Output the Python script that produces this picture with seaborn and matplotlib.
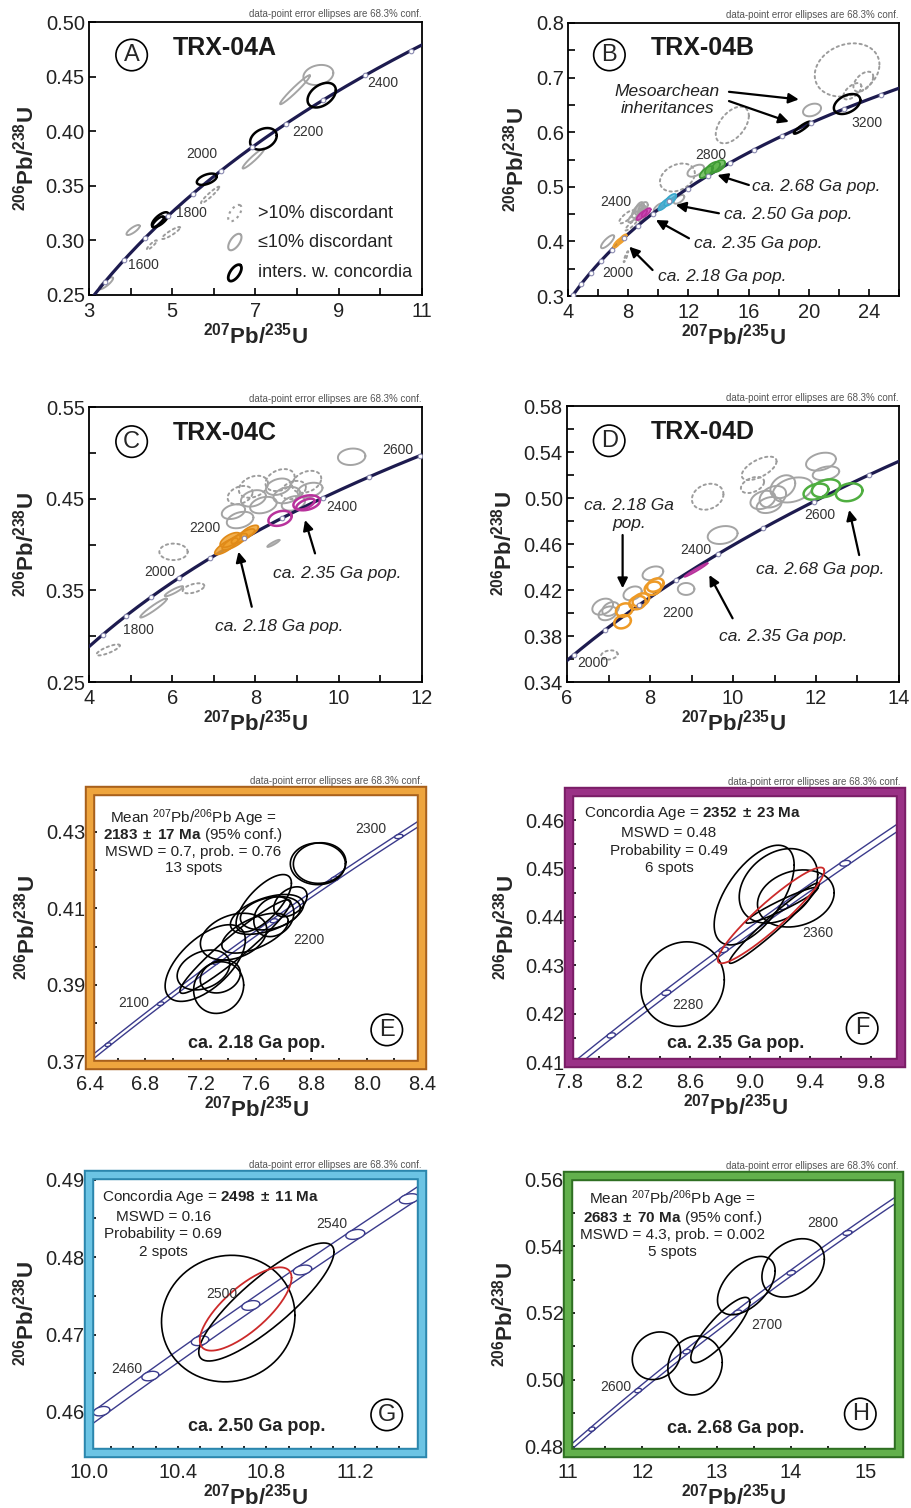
import numpy as np
import matplotlib
matplotlib.use("Agg")
import matplotlib.pyplot as plt
import seaborn as sns
from matplotlib.patches import Rectangle

sns.set_theme(style="ticks")
plt.rcParams["font.family"] = ["Liberation Sans", "DejaVu Sans"]
plt.rcParams.update({
    "mathtext.fontset": "custom",
    "mathtext.rm": "Liberation Sans",
    "mathtext.it": "Liberation Sans:italic",
    "mathtext.bf": "Liberation Sans:bold",
    "mathtext.default": "regular",
    "axes.linewidth": 1.3,
    "axes.edgecolor": "black",
})

# U decay constants (per year) and their relative uncertainties
LAMBDA_235 = 9.8485e-10
LAMBDA_238 = 1.55125e-10
LAMBDA_235_REL = 0.0014
LAMBDA_238_REL = 0.0011

XLABEL = r"$\mathbf{{}^{207}Pb/{}^{235}U}$"
YLABEL = r"$\mathbf{{}^{206}Pb/{}^{238}U}$"
CONF_NOTE = "data-point error ellipses are 68.3% conf."

# spot ellipses: (207Pb/235U, 206Pb/238U, half-width x, half-width y, rho)

# ---------------- TRX-04A ----------------
A_INTERSECT = [(4.71, 0.319, 0.20, 0.0068, 0.7), (4.66, 0.317, 0.14, 0.005, 0.8),
               (5.83, 0.356, 0.24, 0.0052, 0.5), (7.19, 0.393, 0.32, 0.0099, 0.3),
               (8.59, 0.433, 0.34, 0.0113, 0.4)]
A_CONCORDANT = [(8.51, 0.4515, 0.36, 0.0092, 0.2), (7.95, 0.438, 0.36, 0.0133, 0.97),
                (6.95, 0.375, 0.26, 0.0092, 0.95), (4.06, 0.3095, 0.16, 0.0046, 0.8),
                (3.41, 0.2607, 0.17, 0.0055, 0.85)]
A_DISCORDANT = [(5.91, 0.3416, 0.22, 0.0076, 0.95), (4.97, 0.3068, 0.22, 0.0055, 0.9),
                (4.51, 0.2958, 0.12, 0.0043, 0.9)]
A_LABELLED_AGES = [1600, 1800, 2000, 2200, 2400]
A_LEGEND = [">10% discordant", "\u226410% discordant", "inters. w. concordia"]

# ---------------- TRX-04B ----------------
B_INTERSECT = [(22.55, 0.6516, 0.88, 0.0183, 0.4), (19.56, 0.6083, 0.55, 0.011, 0.9)]
B_CONCORDANT = [(20.22, 0.6407, 0.60, 0.0116, 0.3), (12.49, 0.5295, 0.55, 0.011, 0.5),
                (6.63, 0.3995, 0.44, 0.012, 0.8), (8.60, 0.455, 0.35, 0.012, 0.6),
                (9.00, 0.462, 0.30, 0.010, 0.5), (8.35, 0.445, 0.35, 0.010, 0.8),
                (8.90, 0.449, 0.30, 0.012, 0.4), (10.05, 0.4624, 0.35, 0.008, 0.7),
                (11.38, 0.477, 0.35, 0.008, 0.6)]
B_CONCORDANT_DENSE = [(8.75, 0.460, 0.30, 0.012, 0.5), (8.95, 0.455, 0.25, 0.010, 0.6)]
B_DISCORDANT = [(22.55, 0.714, 2.15, 0.0488, 0.2), (23.63, 0.6925, 0.66, 0.0183, 0.5),
                (22.90, 0.675, 0.60, 0.015, 0.6), (14.92, 0.6132, 1.10, 0.0336, 0.5),
                (11.27, 0.517, 1.16, 0.0257, 0.3), (7.90, 0.445, 0.50, 0.012, 0.8),
                (8.20, 0.430, 0.40, 0.010, 0.9), (7.85, 0.372, 0.15, 0.010, 0.9)]
B_POP_218 = [(7.30, 0.397, 0.30, 0.009, 0.8), (7.60, 0.404, 0.30, 0.009, 0.8)]
B_POP_235 = [(8.90, 0.448, 0.35, 0.009, 0.8), (9.20, 0.453, 0.30, 0.008, 0.7)]
B_POP_250 = [(10.40, 0.468, 0.40, 0.011, 0.8), (10.80, 0.476, 0.40, 0.011, 0.7)]
B_POP_268 = [(13.20, 0.527, 0.45, 0.011, 0.7), (13.60, 0.534, 0.50, 0.012, 0.6),
             (14.00, 0.538, 0.45, 0.011, 0.5)]
B_LABELLED_AGES = [2000, 2400, 2800, 3200]

# ---------------- TRX-04C ----------------
C_CONCORDANT = [(10.31, 0.4957, 0.33, 0.009, 0.1), (5.55, 0.3307, 0.32, 0.0104, 0.95),
                (6.04, 0.349, 0.22, 0.0055, 0.9), (7.63, 0.4267, 0.32, 0.009, 0.3),
                (8.19, 0.443, 0.32, 0.009, 0.3), (8.75, 0.4539, 0.32, 0.009, 0.3),
                (9.31, 0.4594, 0.30, 0.008, 0.3), (7.95, 0.4503, 0.30, 0.009, 0.3),
                (8.55, 0.463, 0.30, 0.009, 0.3), (7.47, 0.4358, 0.28, 0.008, 0.3),
                (8.91, 0.4449, 0.28, 0.008, 0.3)]
C_CONCORDANT_DENSE = [(8.43, 0.4012, 0.15, 0.004, 0.9)]
C_DISCORDANT = [(6.03, 0.392, 0.34, 0.009, 0.0), (6.51, 0.3522, 0.26, 0.0055, 0.5),
                (4.46, 0.285, 0.28, 0.006, 0.8), (7.95, 0.463, 0.35, 0.012, 0.3),
                (8.59, 0.4703, 0.35, 0.012, 0.3), (9.23, 0.4684, 0.35, 0.012, 0.3),
                (7.63, 0.4539, 0.30, 0.010, 0.3), (8.91, 0.4594, 0.30, 0.010, 0.3)]
C_POP_218 = [(7.30, 0.398, 0.28, 0.009, 0.8), (7.50, 0.403, 0.30, 0.009, 0.8),
             (7.70, 0.409, 0.28, 0.008, 0.8), (7.85, 0.414, 0.22, 0.007, 0.7),
             (7.40, 0.405, 0.25, 0.008, 0.6)]
C_POP_235 = [(8.59, 0.4285, 0.28, 0.0082, 0.3), (9.23, 0.4455, 0.32, 0.0082, 0.3),
             (9.20, 0.444, 0.22, 0.006, 0.6)]
C_LABELLED_AGES = [1800, 2000, 2200, 2400, 2600]

# ---------------- TRX-04D ----------------
D_CONCORDANT = [(12.12, 0.5316, 0.36, 0.0078, 0.3), (12.24, 0.5215, 0.32, 0.006, 0.3),
                (11.44, 0.507, 0.48, 0.0109, 0.3), (10.96, 0.5011, 0.32, 0.0094, 0.3),
                (10.72, 0.4983, 0.30, 0.008, 0.3), (11.20, 0.5098, 0.30, 0.010, 0.3),
                (10.87, 0.4939, 0.30, 0.007, 0.3), (9.75, 0.4678, 0.36, 0.0078, 0.2),
                (8.87, 0.4209, 0.20, 0.0052, 0.0), (6.86, 0.4055, 0.25, 0.007, 0.3),
                (6.98, 0.3997, 0.22, 0.006, 0.3), (7.05, 0.4035, 0.20, 0.006, 0.3),
                (8.07, 0.4345, 0.25, 0.006, 0.3), (7.58, 0.4171, 0.22, 0.006, 0.3)]
D_DISCORDANT = [(9.39, 0.5011, 0.38, 0.0113, 0.2), (10.63, 0.5258, 0.42, 0.0102, 0.6),
                (10.47, 0.5113, 0.28, 0.007, 0.4), (7.02, 0.3635, 0.20, 0.004, 0.2)]
D_POP_218 = [(7.34, 0.3924, 0.20, 0.0058, 0.2), (7.38, 0.4026, 0.20, 0.0058, 0.2),
             (7.70, 0.409, 0.20, 0.0058, 0.2), (7.78, 0.4113, 0.20, 0.0058, 0.3),
             (8.07, 0.4215, 0.20, 0.0058, 0.2), (8.13, 0.4243, 0.20, 0.0058, 0.3)]
D_POP_235 = [(9.11, 0.4374, 0.28, 0.006, 0.98)]
D_POP_268 = [(12.24, 0.5084, 0.34, 0.0078, 0.3), (12.80, 0.505, 0.32, 0.0078, 0.2),
             (12.00, 0.5055, 0.30, 0.007, 0.3)]
D_LABELLED_AGES = [2000, 2200, 2400, 2600]

# ---------------- populations (E-H) ----------------
E_SPOTS = [(8.047, 0.4216, 0.199, 0.00544, 0.0), (8.060, 0.4218, 0.190, 0.0053, 0.05),
           (7.704, 0.4087, 0.217, 0.00435, 0.3), (7.729, 0.4078, 0.145, 0.0052, 0.2),
           (7.656, 0.4113, 0.200, 0.0075, 0.7), (7.438, 0.4026, 0.240, 0.0061, 0.3),
           (7.233, 0.3957, 0.290, 0.0100, 0.6), (7.330, 0.3893, 0.181, 0.00674, 0.1),
           (7.220, 0.3939, 0.190, 0.0052, 0.3), (7.450, 0.4000, 0.400, 0.0122, 0.95),
           (7.593, 0.4035, 0.240, 0.0052, 0.6), (7.680, 0.4084, 0.265, 0.0052, 0.5),
           (7.849, 0.4117, 0.120, 0.0039, 0.4), (7.342, 0.3922, 0.145, 0.0043, 0.2)]
E_XTICKLABELS = ["6.4", "6.8", "7.2", "7.6", "8.8", "8.0", "8.4"]
E_LABELLED_AGES = [2100, 2200, 2300]
E_TEXT = [r"Mean ${}^{207}$Pb/${}^{206}$Pb Age =",
          r"$\mathbf{2183\;\pm\;17\ Ma}$ (95% conf.)",
          "MSWD = 0.7, prob. = 0.76", "13 spots"]

F_SPOTS = [(8.553, 0.4261, 0.276, 0.00874, 0.1), (9.027, 0.4445, 0.265, 0.0103, 0.6),
           (9.188, 0.4464, 0.260, 0.0077, 0.3), (9.303, 0.4438, 0.254, 0.0059, 0.2),
           (9.160, 0.4387, 0.298, 0.0083, 0.97), (9.210, 0.4424, 0.238, 0.0037, 0.95)]
F_AGE_MA = 2352
F_AGE_ELLIPSE = (0.353, 0.0099, 0.93)
F_LABELLED_AGES = [2280, 2360]
F_TEXT = [r"Concordia Age = $\mathbf{2352\;\pm\;23\ Ma}$", "MSWD = 0.48",
          "Probability = 0.49", "6 spots"]

G_SPOTS = [(10.628, 0.47206, 0.301, 0.00817, 0.05), (10.80, 0.4742, 0.305, 0.00762, 0.85)]
G_AGE_MA = 2498
G_AGE_ELLIPSE = (0.207, 0.00538, 0.75)
G_LABELLED_AGES = [2460, 2500, 2540]
G_TEXT = [r"Concordia Age = $\mathbf{2498\;\pm\;11\ Ma}$", "MSWD = 0.16",
          "Probability = 0.69", "2 spots"]

H_SPOTS = [(12.19, 0.5072, 0.325, 0.00713, 0.15), (12.71, 0.5043, 0.366, 0.00883, 0.1),
           (13.05, 0.5149, 0.397, 0.00978, 0.85), (13.40, 0.5282, 0.388, 0.00873, 0.5),
           (14.03, 0.5335, 0.420, 0.00873, 0.3)]
H_LABELLED_AGES = [2600, 2700, 2800]
H_TEXT = [r"Mean ${}^{207}$Pb/${}^{206}$Pb Age =",
          r"$\mathbf{2683\;\pm\;70\ Ma}$ (95% conf.)",
          "MSWD = 4.3, prob. = 0.002", "5 spots"]

# colours
NAVY = "#1d1b4f"
BAND = "#3b3b8c"
GRAY = "#a4a4a4"
GRAY_DOT = "#9c9c9c"
ORANGE = "#f0a12e"
MAGENTA = "#b8329c"
BLUE = "#5cc2e2"
GREEN = "#5bb548"
RED = "#cc2a2a"


def concordia(age_ma, k235=1.0, k238=1.0):
    t = np.asarray(age_ma, dtype=float) * 1e6
    return np.expm1(LAMBDA_235 * k235 * t), np.expm1(LAMBDA_238 * k238 * t)


def ellipse_xy(cx, cy, sx, sy, rho, n=180):
    th = np.linspace(0, 2 * np.pi, n)
    return (cx + sx * np.cos(th),
            cy + sy * (rho * np.cos(th) + np.sqrt(1 - rho ** 2) * np.sin(th)))


def draw_spots(ax, spots, color, lw=1.2, ls="-", fill=None, alpha=1.0, z=3):
    for cx, cy, sx, sy, rho in spots:
        ex, ey = ellipse_xy(cx, cy, sx, sy, rho)
        if fill is not None:
            ax.fill(ex, ey, color=fill, alpha=alpha, lw=0, zorder=z)
        ax.plot(ex, ey, color=color, lw=lw, ls=ls, zorder=z + 0.1,
                solid_capstyle="round", dash_capstyle="round")


def draw_concordia(ax, age_lo, age_hi, step):
    ages = np.arange(age_lo, age_hi + 1, 2.0)
    x, y = concordia(ages)
    sns.lineplot(x=x, y=y, sort=False, color=NAVY, linewidth=2.3, ax=ax, zorder=4)
    mx, my = concordia(np.arange(age_lo, age_hi + 1, step))
    ax.plot(mx, my, ls="none", marker="o", ms=3.3, mfc="white", mec="#8a8ab0",
            mew=0.8, zorder=5)


def draw_concordia_band(ax, age_lo, age_hi, step):
    ages = np.arange(age_lo, age_hi + 1, 1.0)
    for k in (1 - LAMBDA_235_REL, 1 + LAMBDA_235_REL):
        x, y = concordia(ages, k235=k)
        sns.lineplot(x=x, y=y, sort=False, color=BAND, linewidth=1.0, ax=ax, zorder=4)
    for a in np.arange(age_lo, age_hi + 1, step):
        x, y = concordia(a)
        sx = (x + 1) * LAMBDA_235 * a * 1e6 * LAMBDA_235_REL
        sy = (y + 1) * LAMBDA_238 * a * 1e6 * LAMBDA_238_REL
        ex, ey = ellipse_xy(x, y, sx, sy, 0.3)
        ax.fill(ex, ey, color="white", lw=0, zorder=4.2)
        ax.plot(ex, ey, color=BAND, lw=1.0, zorder=4.3)


def age_labels(ax, ages, positions, size=10):
    for a, (px, py) in zip(ages, positions):
        ax.text(px, py, str(a), fontsize=size, color="#333333", ha="center",
                va="center", zorder=6)


def style_axes(ax, xlim, ylim, xmaj, xmin, ymaj, ymin, xfmt="%g", yfmt="%.2f",
               xlabels=None, xpad=5.0, note_dy=6):
    ax.set_xlim(*xlim)
    ax.set_ylim(*ylim)
    ax.set_xticks(xmaj)
    ax.set_xticks(xmin, minor=True)
    ax.set_yticks(ymaj)
    ax.set_yticks(ymin, minor=True)
    ax.set_xticklabels(xlabels if xlabels is not None else [xfmt % v for v in xmaj])
    ax.set_yticklabels([yfmt % v for v in ymaj])
    ax.tick_params(which="both", direction="in", length=5, width=1.2, color="black",
                   labelsize=14.5, pad=3, top=False, right=False, labelcolor="#222222")
    ax.tick_params(axis="x", which="both", pad=xpad)
    ax.set_xlabel(XLABEL, fontsize=16, labelpad=1)
    ax.set_ylabel(YLABEL, fontsize=16, labelpad=5)
    ax.annotate(CONF_NOTE, xy=(1, 1), xycoords="axes fraction", xytext=(0, note_dy),
                textcoords="offset points", ha="right", va="center", fontsize=7,
                color="#555555")


def panel_tag(ax, letter, x, y, size=17):
    ax.text(x, y, letter, transform=ax.transAxes, fontsize=size, ha="center",
            va="center", zorder=12,
            bbox=dict(boxstyle="circle,pad=0.2", fc="white", ec="black", lw=1.2))


def title_tag(ax, text, x, y):
    ax.text(x, y, text, transform=ax.transAxes, fontsize=18, fontweight="bold",
            ha="left", va="center", zorder=12, color="#1a1a1a")


def arrow_note(ax, text, text_xy, start, end, ha="left", size=12.5):
    if text:
        ax.text(*text_xy, text, fontsize=size, style="italic", ha=ha, va="center",
                zorder=12, color="#222222", linespacing=1.25)
    ax.annotate("", xy=end, xytext=start,
                arrowprops=dict(arrowstyle="-|>", color="black", lw=1.6,
                                mutation_scale=15, shrinkA=0, shrinkB=0), zorder=12)


def colour_frame(ax, outer, inner):
    for s in ax.spines.values():
        s.set_visible(False)
    for lw, col in ((7.5, outer), (4.6, inner)):
        ax.add_patch(Rectangle((0, 0), 1, 1, transform=ax.transAxes, fill=False,
                               lw=lw, ec=col, clip_on=False, zorder=10,
                               joinstyle="miter"))


def text_block(ax, lines, first_xy, centre_x, ys, first_ha="center", size=11):
    for i, (line, y) in enumerate(zip(lines, ys)):
        if i == 0:
            ax.text(first_xy[0], y, line, transform=ax.transAxes, fontsize=size,
                    ha=first_ha, va="center", zorder=12, color="#222222")
        else:
            ax.text(centre_x, y, line, transform=ax.transAxes, fontsize=size,
                    ha="center", va="center", zorder=12, color="#222222")


fig = plt.figure(figsize=(9.12, 15.08), dpi=100)
fig.patch.set_facecolor("white")
FW, FH = 912, 1508


def add_ax(l, t, r, b):
    return fig.add_axes([l / FW, 1 - b / FH, (r - l) / FW, (b - t) / FH])


# ---------------- A ----------------
ax = add_ax(89, 22, 422, 295)
style_axes(ax, (3, 11), (0.25, 0.50), [3, 5, 7, 9, 11], [4, 6, 8, 10],
           np.arange(0.25, 0.501, 0.05), [])
draw_concordia(ax, 1000, 3000, 100)
draw_spots(ax, A_DISCORDANT, GRAY_DOT, lw=1.4, ls=(0, (1.2, 1.8)))
draw_spots(ax, A_CONCORDANT, GRAY, lw=1.4)
draw_spots(ax, A_INTERSECT, "black", lw=1.8, z=4.5)
age_labels(ax, A_LABELLED_AGES,
           [(4.31, 0.2775), (5.47, 0.3248), (5.71, 0.3791), (8.27, 0.3996), (10.07, 0.4439)])
title_tag(ax, "TRX-04A", 0.252, 0.905)
panel_tag(ax, "A", 0.128, 0.879)
# legend keys
aw, ah = 333.0, 273.0
th = np.linspace(0, 2 * np.pi, 120)
ang = np.deg2rad(55)
kx = 9.5 * np.cos(th) * np.cos(ang) - 4.6 * np.sin(th) * np.sin(ang)
ky = 9.5 * np.cos(th) * np.sin(ang) + 4.6 * np.sin(th) * np.cos(ang)
for (yk, col, ls, lw), label in zip(
        [(0.300, GRAY_DOT, (0, (1.2, 1.8)), 1.5), (0.194, GRAY, "-", 1.5),
         (0.081, "black", "-", 2.0)], A_LEGEND):
    ax.plot(0.438 + kx / aw, yk + ky / ah, transform=ax.transAxes, color=col, ls=ls,
            lw=lw, clip_on=False, zorder=12)
    ax.text(0.508, yk, label, transform=ax.transAxes, fontsize=13, ha="left",
            va="center", color="#222222", zorder=12)

# ---------------- B ----------------
ax = add_ax(568, 23, 899, 296)
style_axes(ax, (4, 26), (0.3, 0.8), [4, 8, 12, 16, 20, 24], [6, 10, 14, 18, 22, 26],
           np.arange(0.3, 0.801, 0.1), np.arange(0.35, 0.8, 0.1), yfmt="%.1f")
draw_concordia(ax, 1500, 3600, 100)
draw_spots(ax, B_DISCORDANT, GRAY_DOT, lw=1.4, ls=(0, (1.2, 1.8)))
draw_spots(ax, B_CONCORDANT_DENSE, GRAY, lw=1.3, fill="#b8b8b8", alpha=0.9)
draw_spots(ax, B_CONCORDANT, GRAY, lw=1.4)
draw_spots(ax, B_INTERSECT, "black", lw=1.8, z=4.5)
draw_spots(ax, B_POP_218, ORANGE, lw=1.2, fill=ORANGE, alpha=0.85, z=4.6)
draw_spots(ax, B_POP_235, MAGENTA, lw=1.2, fill="#d040b8", alpha=0.85, z=4.6)
draw_spots(ax, B_POP_250, "#3aa8cc", lw=1.2, fill=BLUE, alpha=0.85, z=4.6)
draw_spots(ax, B_POP_268, "#3f9a35", lw=1.2, fill=GREEN, alpha=0.8, z=4.6)
age_labels(ax, B_LABELLED_AGES, [(7.3, 0.3416), (7.18, 0.4727), (13.48, 0.5582), (23.87, 0.6163)])
title_tag(ax, "TRX-04B", 0.251, 0.907)
panel_tag(ax, "B", 0.125, 0.883)
ax.text(10.61, 0.659, "Mesoarchean\ninheritances", fontsize=12.5, style="italic",
        ha="center", va="center", color="#222222", linespacing=1.2, zorder=12)
arrow_note(ax, None, None, (14.7, 0.674), (19.34, 0.660))
arrow_note(ax, None, None, (14.7, 0.657), (18.68, 0.619))
arrow_note(ax, "ca. 2.68 Ga pop.", (16.25, 0.5002), (16.02, 0.5033), (13.93, 0.5216))
arrow_note(ax, "ca. 2.50 Ga pop.", (14.37, 0.4484), (14.03, 0.4515), (11.16, 0.4667))
arrow_note(ax, "ca. 2.35 Ga pop.", (12.38, 0.3965), (12.04, 0.4057), (9.84, 0.4392))
arrow_note(ax, "ca. 2.18 Ga pop.", (9.95, 0.3353), (9.62, 0.3476), (8.07, 0.3903))

# ---------------- C ----------------
ax = add_ax(89, 407, 422, 682)
style_axes(ax, (4, 12), (0.25, 0.55), [4, 6, 8, 10, 12], [5, 7, 9, 11],
           [0.25, 0.35, 0.45, 0.55], [0.30, 0.40, 0.50])
draw_concordia(ax, 1000, 3000, 100)
draw_spots(ax, C_DISCORDANT, GRAY_DOT, lw=1.4, ls=(0, (1.2, 1.8)))
draw_spots(ax, C_CONCORDANT, GRAY, lw=1.4)
draw_spots(ax, C_CONCORDANT_DENSE, GRAY, lw=1.2, fill="#b0b0b0", alpha=0.9)
draw_spots(ax, C_POP_218, "#e08a18", lw=1.2, fill=ORANGE, alpha=0.85, z=4.6)
draw_spots(ax, C_POP_235, MAGENTA, lw=1.8, z=4.6)
age_labels(ax, C_LABELLED_AGES,
           [(5.19, 0.3067), (5.71, 0.3703), (6.79, 0.4176), (10.07, 0.4412), (11.43, 0.503)])
title_tag(ax, "TRX-04C", 0.253, 0.904)
panel_tag(ax, "C", 0.128, 0.874)
arrow_note(ax, "ca. 2.35 Ga pop.", (8.43, 0.3685), (9.43, 0.3903), (9.19, 0.4267))
arrow_note(ax, "ca. 2.18 Ga pop.", (7.03, 0.3103), (7.91, 0.3321), (7.59, 0.3921))

# ---------------- D ----------------
ax = add_ax(567, 406, 899, 682)
style_axes(ax, (6, 14), (0.34, 0.58), [6, 8, 10, 12, 14], [7, 9, 11, 13],
           np.arange(0.34, 0.581, 0.04), np.arange(0.36, 0.58, 0.04))
draw_concordia(ax, 1500, 3000, 100)
draw_spots(ax, D_DISCORDANT, GRAY_DOT, lw=1.4, ls=(0, (1.2, 1.8)))
draw_spots(ax, D_CONCORDANT, GRAY, lw=1.4)
draw_spots(ax, D_POP_218, "#ee9a26", lw=1.8, z=4.6)
draw_spots(ax, D_POP_235, MAGENTA, lw=1.2, fill="#c040a8", alpha=0.9, z=4.6)
draw_spots(ax, D_POP_268, "#4fae40", lw=1.8, z=4.6)
age_labels(ax, D_LABELLED_AGES, [(6.62, 0.3563), (8.67, 0.3997), (9.11, 0.4548), (12.08, 0.4852)])
title_tag(ax, "TRX-04D", 0.253, 0.904)
panel_tag(ax, "D", 0.127, 0.874)
arrow_note(ax, "ca. 2.18 Ga\npop.", (7.5, 0.486), (7.34, 0.4678), (7.34, 0.4215), ha="center")
arrow_note(ax, "ca. 2.35 Ga pop.", (9.67, 0.3794), (9.99, 0.3954), (9.43, 0.433))
arrow_note(ax, "ca. 2.68 Ga pop.", (10.55, 0.4374), (13.04, 0.4504), (12.8, 0.4896))

# ---------------- E ----------------
ax = add_ax(90, 791, 422, 1065)
style_axes(ax, (6.4, 8.8), (0.3691, 0.4406), np.arange(6.4, 8.81, 0.4),
           np.arange(6.6, 8.8, 0.4), [0.37, 0.39, 0.41, 0.43], [0.38, 0.40, 0.42, 0.44],
           xlabels=E_XTICKLABELS, xpad=7.5, note_dy=7)
draw_concordia_band(ax, 2000, 2350, 50)
draw_spots(ax, E_SPOTS, "black", lw=1.2, z=5)
age_labels(ax, E_LABELLED_AGES, [(6.714, 0.3854), (7.982, 0.4017), (8.429, 0.4306)])
text_block(ax, E_TEXT, (0.311, 0), 0.311, [0.902, 0.839, 0.778, 0.718])
ax.text(0.502, 0.079, "ca. 2.18 Ga pop.", transform=ax.transAxes, fontsize=13,
        fontweight="bold", ha="center", va="center", color="#222222", zorder=12)
panel_tag(ax, "E", 0.894, 0.128)
colour_frame(ax, "#a8601c", "#eea53e")

# ---------------- F ----------------
ax = add_ax(569, 792, 901, 1063)
style_axes(ax, (7.8, 10.0), (0.4098, 0.4658), np.arange(7.8, 9.81, 0.4),
           np.arange(8.0, 10.0, 0.4), np.arange(0.41, 0.4601, 0.01),
           np.arange(0.415, 0.466, 0.01), xfmt="%.1f", xpad=7.5, note_dy=7)
draw_concordia_band(ax, 2160, 2440, 40)
draw_spots(ax, F_SPOTS, "black", lw=1.2, z=5)
fx, fy = concordia(F_AGE_MA)
draw_spots(ax, [(float(fx), float(fy)) + F_AGE_ELLIPSE], RED, lw=1.3, z=5.5)
age_labels(ax, F_LABELLED_AGES, [(8.586, 0.4218), (9.447, 0.4366)])
text_block(ax, F_TEXT, (0.046, 0), 0.301, [0.921, 0.848, 0.783, 0.718], first_ha="left")
ax.text(0.503, 0.073, "ca. 2.35 Ga pop.", transform=ax.transAxes, fontsize=13,
        fontweight="bold", ha="center", va="center", color="#222222", zorder=12)
panel_tag(ax, "F", 0.883, 0.128)
colour_frame(ax, "#7a1d66", "#9a3186")

# ---------------- G ----------------
ax = add_ax(89, 1175, 422, 1453)
style_axes(ax, (10.0, 11.502), (0.4547, 0.4906), [10.0, 10.4, 10.8, 11.2],
           np.arange(10.1, 11.5, 0.1), [0.46, 0.47, 0.48, 0.49],
           np.arange(0.455, 0.4906, 0.005), xfmt="%.1f", xpad=7.5, note_dy=7)
draw_concordia_band(ax, 2420, 2580, 20)
draw_spots(ax, G_SPOTS, "black", lw=1.2, z=5)
gx, gy = concordia(G_AGE_MA)
draw_spots(ax, [(float(gx), float(gy)) + G_AGE_ELLIPSE], RED, lw=1.3, z=5.5)
age_labels(ax, G_LABELLED_AGES, [(10.17, 0.4656), (10.598, 0.4752), (11.094, 0.4843)])
text_block(ax, G_TEXT, (0.038, 0), 0.223, [0.922, 0.850, 0.787, 0.724], first_ha="left")
ax.text(0.504, 0.095, "ca. 2.50 Ga pop.", transform=ax.transAxes, fontsize=13,
        fontweight="bold", ha="center", va="center", color="#222222", zorder=12)
panel_tag(ax, "G", 0.894, 0.137)
colour_frame(ax, "#2b86ad", "#6cc4e4")

# ---------------- H ----------------
ax = add_ax(568, 1176, 899, 1453)
style_axes(ax, (11.0, 15.455), (0.4781, 0.561), [11, 12, 13, 14, 15],
           np.arange(11.5, 15.5, 1.0), np.arange(0.48, 0.561, 0.02),
           np.arange(0.49, 0.561, 0.02), xpad=7.5, note_dy=7)
draw_concordia_band(ax, 2500, 2850, 50)
draw_spots(ax, H_SPOTS, "black", lw=1.2, z=5)
age_labels(ax, H_LABELLED_AGES, [(11.65, 0.4979), (13.67, 0.5164), (14.43, 0.5468)])
text_block(ax, H_TEXT, (0.316, 0), 0.316, [0.915, 0.849, 0.787, 0.724])
ax.text(0.508, 0.089, "ca. 2.68 Ga pop.", transform=ax.transAxes, fontsize=13,
        fontweight="bold", ha="center", va="center", color="#222222", zorder=12)
panel_tag(ax, "H", 0.883, 0.141)
colour_frame(ax, "#2f6f22", "#62b04c")

fig.savefig("out.png", dpi=100, facecolor="white")
